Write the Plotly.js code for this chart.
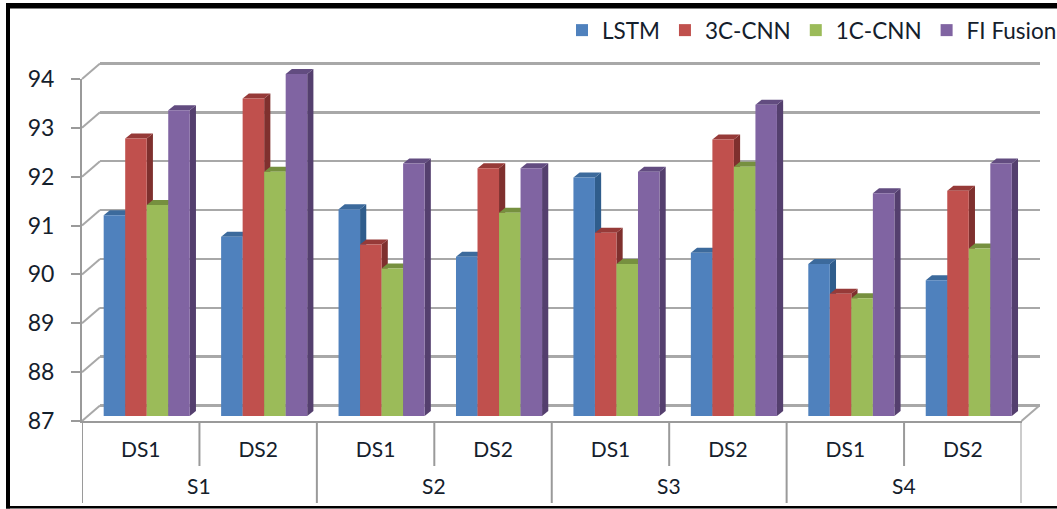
<!DOCTYPE html>
<html>
<head>
<meta charset="utf-8">
<script src="https://cdn.plot.ly/plotly-3.0.1.min.js"></script>
<style>
  html, body { margin: 0; padding: 0; background: #fff; overflow: hidden; }
  #chart { width: 1057px; height: 509px; }
</style>
</head>
<body>
<div id="chart"></div>
<script>
// Accuracy per data set and scenario
const scenarios = ['S1', 'S2', 'S3', 'S4'];
const dataSets = ['DS1', 'DS2', 'DS1', 'DS2', 'DS1', 'DS2', 'DS1', 'DS2'];
const seriesNames = ['LSTM', '3C-CNN', '1C-CNN', 'FI Fusion'];
const lstm     = [91.11, 90.67, 91.23, 90.26, 91.88, 90.34, 90.11, 89.78];
const cnn3     = [92.68, 93.50, 90.51, 92.07, 90.75, 92.66, 89.50, 91.61];
const cnn1     = [91.32, 92.00, 90.02, 91.16, 90.11, 92.10, 89.41, 90.43];
const fiFusion = [93.26, 94.00, 92.17, 92.07, 92.00, 93.37, 91.56, 92.17];
const yTicks = [87, 88, 89, 90, 91, 92, 93, 94];

const seriesValues = [lstm, cnn3, cnn1, fiFusion];
const frontColors = ['#4F81BD', '#C0504D', '#9BBB59', '#8064A2'];
const sideColors  = ['#2F5D8C', '#7F302E', '#667D36', '#543F6E'];
const topColors   = ['#3C6A9C', '#963A38', '#76903F', '#624C80'];
const gridColor = '#A8A8A8';
const axisColor = '#9A9A9A';
const textColor = '#14202C';
const font = 'Lato, "Open Sans", sans-serif';

const W = 1057, H = 509;
const fx = px => px / W;
const fy = py => 1 - py / H;

// Pixel layout of the three depth planes of the pseudo-3D chart
const front = { l: 82, r: 1021.5, t: 79, b: 421 };
const barShift = { x: 6, y: 5 };
const wallShift = { x: 18, y: 15.5 };
const barGap = 0.267;
const depthPx = { x: 6.2, y: 5 };

const unitX = (front.r - front.l) / 8;
const unitY = (front.b - front.t) / 7;
const depthX = depthPx.x / unitX;
const depthY = depthPx.y / unitY;
const barW = (1 - barGap) / 4;
const xRange = [-0.5, 7.5];
const yRange = [87, 94];
const catIndex = dataSets.map((_, i) => i);

function domainX(dx) { return [fx(front.l + dx), fx(front.r + dx)]; }
// Vertical domain of a plane; "pad" units of headroom and footroom keep faces and grid unclipped
function domainY(dy, pad) { return [fy(front.b - dy + pad * unitY), fy(front.t - dy - pad * unitY)]; }
const paddedRange = pad => [yRange[0] - pad, yRange[1] + pad];
const yPx = v => front.b - (v - 87) * unitY;

// Bars themselves give the front faces
const traces = seriesNames.map((name, s) => ({
  type: 'bar',
  name,
  x: catIndex,
  y: seriesValues[s].map(v => v - 87),
  base: 87,
  xaxis: 'x2',
  yaxis: 'y2',
  marker: { color: frontColors[s], line: { width: 0 } },
  hoverinfo: 'x+y+name'
}));

// An empty trace keeps the back-wall axes on the plot
traces.unshift({
  type: 'scatter', mode: 'none', x: [], y: [], xaxis: 'x', yaxis: 'y',
  showlegend: false, hoverinfo: 'skip'
});
// Same for the front axes that carry the labels
traces.push({
  type: 'scatter', mode: 'none', x: [], y: [], xaxis: 'x3', yaxis: 'y3',
  showlegend: false, hoverinfo: 'skip'
});

const shapes = [];
// Side and top faces sit below the traces, painted series by series
seriesNames.forEach((_, s) => {
  seriesValues[s].forEach((v, i) => {
    const x0 = i - (1 - barGap) / 2 + s * barW;
    const x1 = x0 + barW;
    shapes.push({
      type: 'path', xref: 'x2', yref: 'y2', layer: 'below',
      path: `M${x1},87 L${x1 + depthX},${87 + depthY} L${x1 + depthX},${v + depthY} L${x1},${v} Z`,
      fillcolor: sideColors[s], line: { width: 0 }
    });
    shapes.push({
      type: 'path', xref: 'x2', yref: 'y2', layer: 'below',
      path: `M${x0},${v} L${x0 + depthX},${v + depthY} L${x1 + depthX},${v + depthY} L${x1},${v} Z`,
      fillcolor: topColors[s], line: { width: 0 }
    });
  });
});

// Side wall stubs joining the value ticks to the back wall, and the floor's far corner
yTicks.forEach(v => {
  shapes.push({
    type: 'line', xref: 'paper', yref: 'paper', layer: 'below',
    x0: fx(front.l), y0: fy(yPx(v)), x1: fx(front.l + wallShift.x), y1: fy(yPx(v) - wallShift.y),
    line: { color: gridColor, width: 2 }
  });
});
shapes.push({
  type: 'line', xref: 'paper', yref: 'paper', layer: 'below',
  x0: fx(front.r), y0: fy(front.b), x1: fx(front.r + wallShift.x), y1: fy(front.b - wallShift.y),
  line: { color: gridColor, width: 2 }
});

// Dividers of the two-level category axis
catIndex.forEach(i => {
  shapes.push({
    type: 'line', xref: 'x3', yref: 'paper', x0: i + 0.5, x1: i + 0.5,
    y0: fy(front.b), y1: fy(i % 2 === 0 ? 466 : 503), line: { color: axisColor, width: 2 }
  });
});
shapes.push({
  type: 'line', xref: 'x3', yref: 'paper', x0: -0.5, x1: -0.5,
  y0: fy(front.b), y1: fy(503), line: { color: axisColor, width: 2 }
});

// Black picture frame, open on the right
[[3, 8.5], [506, 508.5]].forEach(([c, d]) => shapes.push({
  type: 'rect', xref: 'paper', yref: 'paper', x0: fx(6), x1: 1, y0: fy(c), y1: fy(d),
  fillcolor: '#000', line: { width: 0 }
}));
shapes.push({
  type: 'rect', xref: 'paper', yref: 'paper', x0: fx(6), x1: fx(10), y0: fy(3), y1: fy(508.5),
  fillcolor: '#000', line: { width: 0 }
});

const annotations = scenarios.map((label, g) => ({
  text: label, xref: 'x3', yref: 'paper', x: g * 2 + 0.5, y: fy(485),
  showarrow: false, xanchor: 'center', yanchor: 'middle',
  font: { family: font, size: 21, color: textColor }
}));

const layout = {
  width: W,
  height: H,
  autosize: false,
  margin: { l: 0, r: 0, t: 0, b: 0, pad: 0, autoexpand: false },
  paper_bgcolor: '#fff',
  plot_bgcolor: 'rgba(0,0,0,0)',
  barmode: 'group',
  bargap: barGap,
  bargroupgap: 0,
  showlegend: true,
  legend: {
    orientation: 'h',
    x: fx(562), y: fy(9), xanchor: 'left', yanchor: 'top',
    font: { family: font, size: 22.5, color: textColor },
    bgcolor: 'rgba(0,0,0,0)',
    itemclick: false,
    traceorder: 'normal'
  },
  // Back wall with the horizontal grid
  xaxis: {
    domain: domainX(wallShift.x), range: xRange, anchor: 'y',
    showticklabels: false, ticks: '', showgrid: false, zeroline: false, showline: false
  },
  yaxis: {
    domain: domainY(wallShift.y, 1), range: paddedRange(1), anchor: 'x',
    tickmode: 'array', tickvals: yTicks,
    showticklabels: false, ticks: '', showgrid: true, gridcolor: gridColor, gridwidth: 2.5,
    zeroline: false, showline: false
  },
  // Plane of the bars' front faces
  xaxis2: {
    domain: domainX(barShift.x), range: xRange, anchor: 'y2',
    visible: false, showgrid: false, zeroline: false
  },
  yaxis2: {
    domain: domainY(barShift.y, 1), range: paddedRange(1), anchor: 'x2',
    visible: false, showgrid: false, zeroline: false
  },
  // Front edge carrying the axis lines and labels
  xaxis3: {
    domain: domainX(0), range: xRange, anchor: 'y3',
    tickmode: 'array', tickvals: catIndex, ticktext: dataSets,
    ticks: '', ticklen: 0, ticklabelstandoff: 9,
    showgrid: false, zeroline: false, showline: true, linecolor: axisColor, linewidth: 2,
    tickfont: { family: font, size: 21, color: textColor }
  },
  yaxis3: {
    domain: domainY(0, 0), range: yRange, anchor: 'x3',
    tickmode: 'array', tickvals: yTicks,
    ticks: 'outside', ticklen: 9, tickcolor: axisColor, tickwidth: 2, ticklabelstandoff: 12,
    showgrid: false, zeroline: false, showline: true, linecolor: axisColor, linewidth: 2,
    tickfont: { family: font, size: 23, color: textColor }
  },
  shapes,
  annotations
};

Plotly.newPlot('chart', traces, layout, { displayModeBar: false, staticPlot: true });
</script>
</body>
</html>
